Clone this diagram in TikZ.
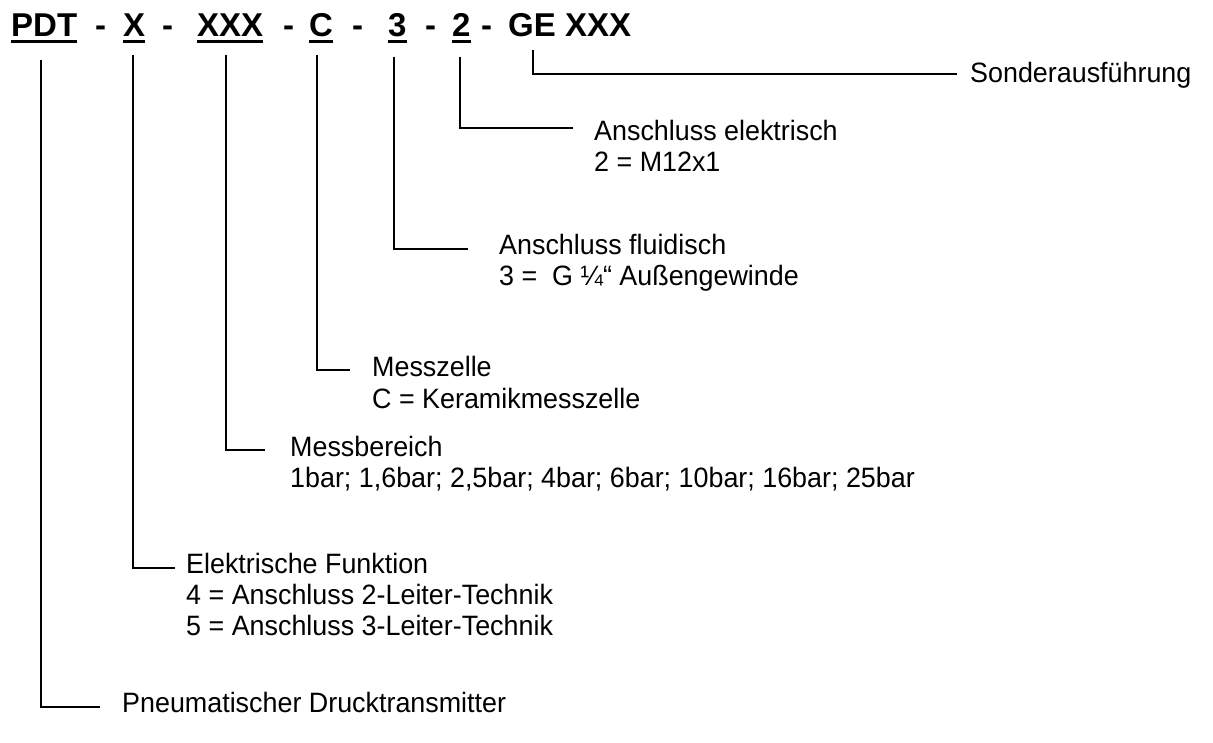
\documentclass[tikz,border=0pt]{standalone}
\usepackage{fontspec}
\setmainfont{Liberation Sans}
\newfontfamily\lblfont[FakeStretch=0.96]{Liberation Sans}
\begin{document}
\begin{tikzpicture}[x=1pt,y=-1pt,
  hdr/.style={font=\fontsize{33}{33}\selectfont\bfseries, inner sep=0pt, anchor=base west},
  lbl/.style={font=\lblfont\fontsize{28}{31}\selectfont, inner sep=0pt, anchor=base west},
  conn/.style={line width=1.3pt},
  ul/.style={line width=3pt}]
\useasboundingbox (0,0) rectangle (1213,743);
% header
\node[hdr] (hPDT) at (11,37) {PDT};
\node[hdr] (d1) at (95,37) {-};
\node[hdr] (hX) at (123,37) {X};
\node[hdr] (d2) at (162,37) {-};
\node[hdr] (hXXX) at (197,37) {XXX};
\node[hdr] (d3) at (283,37) {-};
\node[hdr] (hC) at (309,37) {C};
\node[hdr] (d4) at (352,37) {-};
\node[hdr] (h3) at (388,37) {3};
\node[hdr] (d5) at (425,37) {-};
\node[hdr] (h2) at (452,37) {2};
\node[hdr] (d6) at (481,37) {-};
\node[hdr] (hGE) at (508,37) {GE XXX};
\foreach \n in {hPDT,hX,hXXX,hC,h3,h2}
  \draw[ul] ([yshift=-5pt]\n.base west) -- ([yshift=-5pt]\n.base east);
% labels
\node[lbl] (lS) at (970,83) {Sonderausführung};
\node[lbl] (lE1) at (594,141) {Anschluss elektrisch};
\node[lbl] (lE2) at (594,172) {2 = M12x1};
\node[lbl] (lF1) at (499,255) {Anschluss fluidisch};
\node[lbl] (lF2) at (499,286) {3 = \ G ¼“ Außengewinde};
\node[lbl] (lM1) at (372,377) {Messzelle};
\node[lbl] (lM2) at (372,408) {C = Keramikmesszelle};
\node[lbl] (lB1) at (290,456) {Messbereich};
\node[lbl] (lB2) at (290,487) {1bar; 1,6bar; 2,5bar; 4bar; 6bar; 10bar; 16bar; 25bar};
\node[lbl] (lK1) at (186,573) {Elektrische Funktion};
\node[lbl] (lK2) at (186,604) {4 = Anschluss 2-Leiter-Technik};
\node[lbl] (lK3) at (186,635) {5 = Anschluss 3-Leiter-Technik};
\node[lbl] (lP) at (122,712) {Pneumatischer Drucktransmitter};
% connector coordinates
\coordinate (sP) at (41,60);   \coordinate (eP) at (100,707);
\coordinate (sX) at (133,55);  \coordinate (eX) at (175,568);
\coordinate (sXXX) at (226,55); \coordinate (eXXX) at (265,450);
\coordinate (sC) at (317,55);  \coordinate (eC) at (350,370);
\coordinate (s3) at (394,57);  \coordinate (e3) at (468,249);
\coordinate (s2) at (460,57);  \coordinate (e2) at (573,128);
\coordinate (sG) at (533,50);  \coordinate (eG) at (957,74);
\foreach \a in {P,X,XXX,C,3,2,G}
  \draw[conn] (s\a) |- (e\a);
\end{tikzpicture}
\end{document}
